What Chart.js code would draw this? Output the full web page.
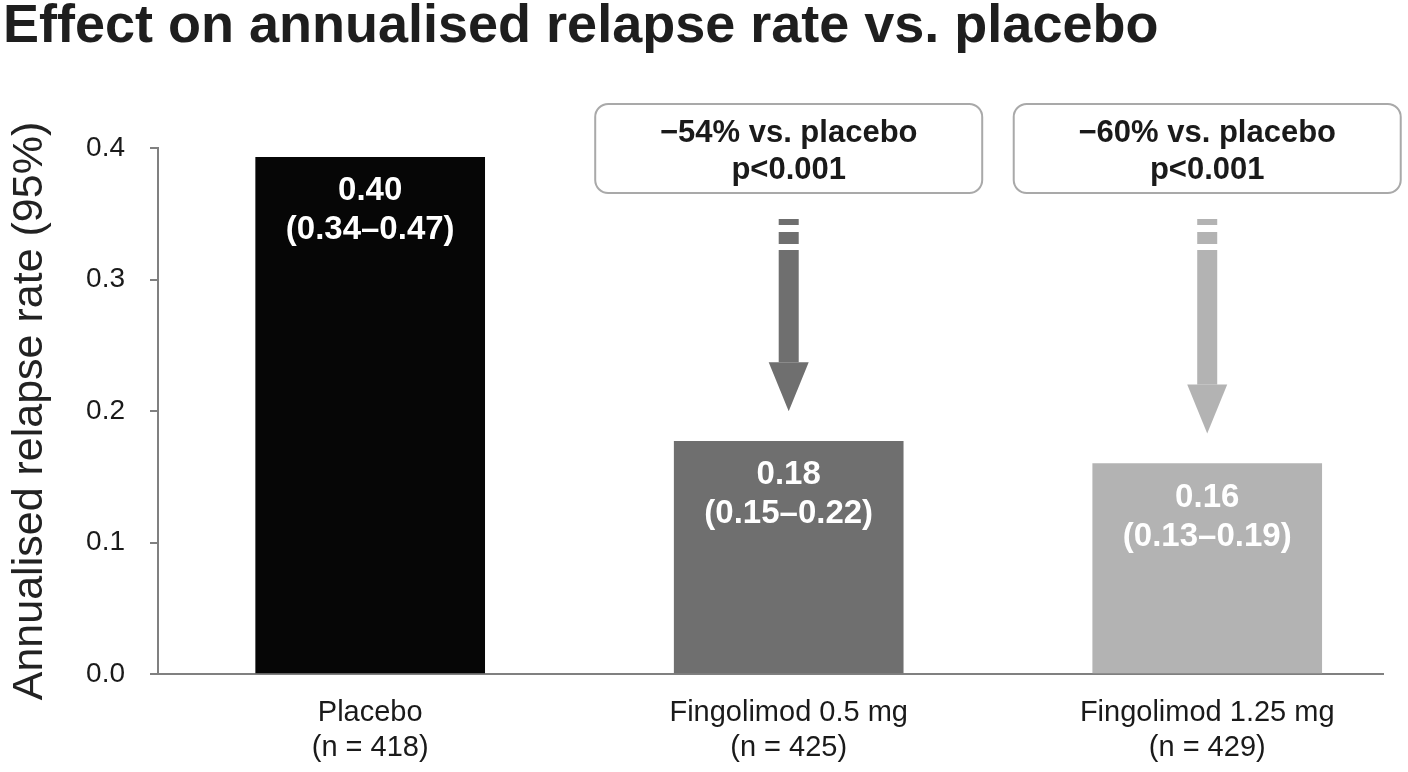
<!DOCTYPE html>
<html lang="en">
<head>
  <meta charset="UTF-8">
  <title>Effect on annualised relapse rate vs. placebo</title>
  <style>
    html, body { margin: 0; background: #ffffff; }
    #wrap { width: 1408px; height: 772px; position: relative; }
  </style>
</head>
<body>
  <div id="wrap"><canvas id="relapseChart"></canvas></div>

  <script src="https://cdn.jsdelivr.net/npm/chart.js"></script>
  <script>
    // values
    const categories = ['Placebo', 'Fingolimod 0.5 mg', 'Fingolimod 1.25 mg'];
    const sampleSizes = ['(n = 418)', '(n = 425)', '(n = 429)'];
    const relapseRates = [0.393, 0.177, 0.160];
    const rateLabels = ['0.40', '0.18', '0.16'];
    const ciLabels = ['(0.34–0.47)', '(0.15–0.22)', '(0.13–0.19)'];
    const barColors = ['#060606', '#6f6f6f', '#b3b3b3'];
    const yTicks = [0, 0.1, 0.2, 0.3, 0.4];
    // comparison boxes for the two fingolimod doses (index into categories)
    const compareIdx = [1, 2];
    const reductionLabels = ['−54% vs. placebo', '−60% vs. placebo'];
    const pLabels = ['p<0.001', 'p<0.001'];

    const FONT = "'Liberation Sans', Arial, sans-serif";
    const AXIS_GREY = '#808080';

    // white value + CI text inside each bar
    const barTextPlugin = {
      id: 'barText',
      afterDatasetsDraw(chart) {
        const ctx = chart.ctx;
        const bars = chart.getDatasetMeta(0).data;
        ctx.save();
        ctx.fillStyle = '#ffffff';
        ctx.textAlign = 'center';
        ctx.textBaseline = 'middle';
        ctx.font = 'bold 33px ' + FONT;
        bars.forEach((bar, i) => {
          ctx.fillText(rateLabels[i], bar.x, bar.y + 34);
          ctx.fillText(ciLabels[i], bar.x, bar.y + 73);
        });
        ctx.restore();
      }
    };

    function drawArrow(ctx, x, yStart, yTip, color) {
      const shaftW = 20, headW = 40, headLen = 49;
      const headTop = yTip - headLen;
      ctx.fillStyle = color;
      ctx.fillRect(x - shaftW / 2, yStart, shaftW, 6);
      ctx.fillRect(x - shaftW / 2, yStart + 13, shaftW, 12);
      ctx.fillRect(x - shaftW / 2, yStart + 31, shaftW, headTop - yStart - 31);
      ctx.beginPath();
      ctx.moveTo(x - headW / 2, headTop);
      ctx.lineTo(x + headW / 2, headTop);
      ctx.lineTo(x, yTip);
      ctx.closePath();
      ctx.fill();
    }

    // rounded boxes with the reduction text, and the dashed arrows
    const comparePlugin = {
      id: 'compare',
      afterDraw(chart) {
        const ctx = chart.ctx;
        const top = chart.chartArea.top;
        const bars = chart.getDatasetMeta(0).data;
        ctx.save();
        compareIdx.forEach((idx, k) => {
          const bar = bars[idx];
          const w = 387, boxTop = top - 44, boxH = 89;
          ctx.beginPath();
          ctx.roundRect(bar.x - w / 2, boxTop, w, boxH, 13);
          ctx.fillStyle = '#ffffff';
          ctx.fill();
          ctx.lineWidth = 2;
          ctx.strokeStyle = '#a9a9a9';
          ctx.stroke();

          ctx.fillStyle = '#1a1a1a';
          ctx.textAlign = 'center';
          ctx.textBaseline = 'middle';
          ctx.font = 'bold 31px ' + FONT;
          ctx.fillText(reductionLabels[k], bar.x, boxTop + 29);
          ctx.fillText(pLabels[k], bar.x, boxTop + 66);

          drawArrow(ctx, bar.x, top + 71, bar.y - 30, barColors[idx]);
        });
        ctx.restore();
      }
    };

    const ctx = document.getElementById('relapseChart').getContext('2d');
    new Chart(ctx, {
      type: 'bar',
      data: {
        datasets: [{
          data: relapseRates.map((v, i) => ({ x: i, y: v })),
          backgroundColor: barColors,
          borderWidth: 0,
          barThickness: 229
        }]
      },
      options: {
        responsive: true,
        maintainAspectRatio: false,
        animation: false,
        layout: { padding: { left: 3, right: 25, top: 0, bottom: 0 } },
        plugins: {
          legend: { display: false },
          tooltip: { enabled: false },
          title: {
            display: true,
            text: 'Effect on annualised relapse rate vs. placebo',
            align: 'start',
            color: '#1e1e1e',
            font: { family: FONT, size: 54, weight: 'bold', lineHeight: 1 },
            padding: { top: 0, bottom: 94 }
          }
        },
        scales: {
          x: {
            type: 'linear',
            offset: false,
            min: -0.507,
            max: 2.42,
            afterBuildTicks: (scale) => {
              scale.ticks = categories.map((c, i) => ({ value: i }));
            },
            afterFit: (scale) => { scale.height = 98; },
            grid: { display: false, drawTicks: false },
            border: { display: true, color: AXIS_GREY, width: 2 },
            ticks: {
              autoSkip: false,
              maxRotation: 0,
              padding: 22,
              color: '#1a1a1a',
              font: { family: FONT, size: 29, lineHeight: 1.2 },
              callback: (v) => [categories[v], sampleSizes[v]]
            }
          },
          y: {
            min: 0,
            max: 0.4,
            afterBuildTicks: (scale) => {
              scale.ticks = yTicks.map(v => ({ value: v }));
            },
            afterFit: (scale) => { scale.width = 155; },
            grid: {
              drawOnChartArea: false,
              drawTicks: true,
              tickLength: 8,
              color: AXIS_GREY,
              lineWidth: 2
            },
            border: { display: true, color: AXIS_GREY, width: 2 },
            ticks: {
              padding: 25,
              color: '#1a1a1a',
              font: { family: FONT, size: 28 },
              callback: (v) => v.toFixed(1)
            },
            title: {
              display: true,
              text: 'Annualised relapse rate (95%)',
              color: '#222222',
              font: { family: FONT, size: 43, lineHeight: 1 },
              padding: { top: 6, bottom: 0 }
            }
          }
        }
      },
      plugins: [barTextPlugin, comparePlugin]
    });
  </script>
</body>
</html>
